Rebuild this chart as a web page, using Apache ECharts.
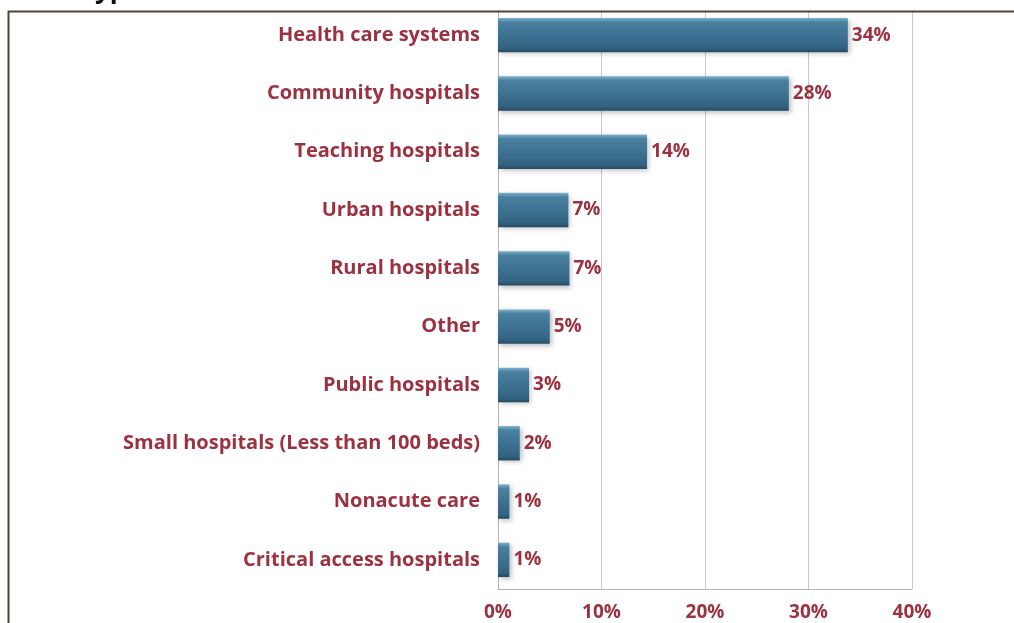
<!DOCTYPE html>
<html>
<head>
<meta charset="utf-8">
<script src="https://cdn.jsdelivr.net/npm/echarts@6/dist/echarts.min.js"></script>
<style>
  html, body { margin: 0; padding: 0; background: #fff; }
  #main { width: 1014px; height: 623px; }
</style>
</head>
<body>
<div id="main"></div>
<script>
// categories top to bottom
var categories = ['Health care systems', 'Community hospitals', 'Teaching hospitals', 'Urban hospitals',
  'Rural hospitals', 'Other', 'Public hospitals', 'Small hospitals (Less than 100 beds)',
  'Nonacute care', 'Critical access hospitals'];
// bar lengths (percent)
var values = [33.8, 28.1, 14.4, 6.8, 6.9, 5.0, 3.0, 2.1, 1.1, 1.1];
// printed labels
var valueLabels = ['34%', '28%', '14%', '7%', '7%', '5%', '3%', '2%', '1%', '1%'];
var tickValues = [0, 10, 20, 30, 40];

var red = '#9c3241';
var font = '"Open Sans", Lato, sans-serif';

var chart = echarts.init(document.getElementById('main'));

// category axis runs bottom-up, so reverse
var cats = categories.slice().reverse();
var data = values.slice().reverse().map(function (v, i) {
  return { value: v, label: { formatter: valueLabels[values.length - 1 - i] } };
});

chart.setOption({
  animation: false,
  grid: { left: 498, right: 102, top: 6, bottom: 34 },
  xAxis: {
    type: 'value',
    min: tickValues[0],
    max: tickValues[tickValues.length - 1],
    interval: 10,
    axisLine: { show: true, lineStyle: { color: '#b4b4b4', width: 1 } },
    axisTick: { show: false },
    splitLine: { show: true, lineStyle: { color: '#c8c8c8', width: 1 } },
    axisLabel: {
      color: red, fontFamily: font, fontWeight: 'bold', fontSize: 19, margin: 14,
      formatter: function (v) { return v + '%'; }
    }
  },
  yAxis: {
    type: 'category',
    data: cats,
    axisLine: { show: true, lineStyle: { color: '#b4b4b4', width: 1 } },
    axisTick: { show: false },
    axisLabel: { color: red, fontFamily: font, fontWeight: 'bold', fontSize: 20, margin: 18 }
  },
  series: [{
    type: 'bar',
    data: data,
    barCategoryGap: '41%',
    itemStyle: {
      color: new echarts.graphic.LinearGradient(0, 0, 0, 1, [
        { offset: 0, color: '#80b2ce' },
        { offset: 0.12, color: '#4a80a0' },
        { offset: 0.5, color: '#3e7292' },
        { offset: 0.88, color: '#336281' },
        { offset: 1, color: '#244b63' }
      ]),
      shadowBlur: 5,
      shadowColor: 'rgba(0,0,0,0.25)',
      shadowOffsetX: 2,
      shadowOffsetY: 2
    },
    label: {
      show: true,
      position: 'right',
      distance: 4,
      color: red,
      fontFamily: font,
      fontWeight: 'bold',
      fontSize: 19
    }
  }],
  graphic: [
    // white strip above the frame, hides the cut-off top of the plot
    { type: 'rect', z: 100, shape: { x: 0, y: 0, width: 1014, height: 11 }, style: { fill: '#fff' } },
    // title cut off by the top of the picture
    { type: 'text', z: 101, left: 80, top: -22, style: { text: 'Type', fill: '#111', font: 'bold 26px ' + font } },
    // frame
    { type: 'polyline', z: 102, shape: { points: [[8.5, 623], [8.5, 11.5], [1014, 11.5]] },
      style: { stroke: '#4d4339', lineWidth: 2, fill: null } }
  ]
});
</script>
</body>
</html>
